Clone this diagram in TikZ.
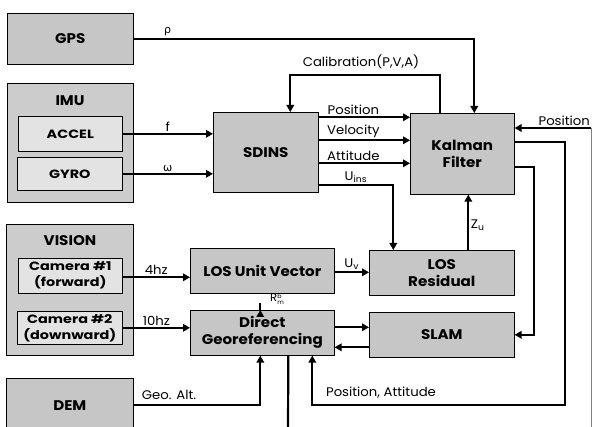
\documentclass[tikz,border=0pt]{standalone}
\usepackage{fontspec}
\setmainfont{Poppins}
\newfontfamily\boxfont[FakeStretch=1.08]{Poppins}
\newfontfamily\infont[FakeStretch=1.2]{Poppins}
\newfontfamily\lblfont[FakeStretch=1.06]{Poppins}
\newfontfamily\grkfont{DejaVu Sans}
\usetikzlibrary{arrows.meta,positioning}

\begin{document}
\begin{tikzpicture}[x=1pt,y=-1pt,
  blk/.style={draw, fill=gray!45, line width=0.6pt, inner sep=0pt, anchor=north west,
    align=center, font=\boxfont\bfseries\fontsize{14}{17}\selectfont},
  grp/.style={blk, fill=gray!40},
  inbox/.style={blk, fill=gray!22, font=\infont\bfseries\fontsize{12}{16}\selectfont},
  arr/.style={line width=2.2pt, -{Triangle[length=7pt,width=7.5pt]}},
  lbl/.style={inner sep=1.5pt, font=\lblfont\fontsize{12.5}{13}\selectfont}]
  \useasboundingbox (0,0) rectangle (592,427);
  \clip (0,0) rectangle (592,427);

  % Sensors
  \node[blk, minimum width=126pt, minimum height=51pt] (gps) at (7,13) {GPS};
  \node[grp, minimum width=126pt, minimum height=119pt] (imu) at (7,83) {};
  \node[blk, draw=none, fill=none, anchor=center] (imutxt) at (70,101) {IMU};
  \node[inbox, minimum width=104pt, minimum height=35pt] (acc) at (18,116) {ACCEL};
  \node[inbox, minimum width=105pt, minimum height=33pt] (gyr) at (17,157) {GYRO};
  \node[grp, minimum width=127pt, minimum height=131pt] (vis) at (6,224) {};
  \node[blk, draw=none, fill=none, anchor=center] (vistxt) at (70,241) {VISION};
  \node[inbox, minimum width=104pt, minimum height=35pt] (cam1) at (18,258) {Camera \#1\\(forward)};
  \node[inbox, minimum width=105pt, minimum height=33pt] (cam2) at (17,311) {Camera \#2\\(downward)};
  \node[blk, minimum width=127pt, minimum height=54pt] (dem) at (6,378) {DEM};

  % Processing blocks
  \node[blk, minimum width=105pt, minimum height=80pt] (sd) at (213,112) {SDINS};
  \node[blk, minimum width=104pt, minimum height=81pt] (kf) at (410,113) {Kalman\\Filter};
  \node[blk, minimum width=144pt, minimum height=45pt] (lu) at (190,248) {LOS Unit Vector};
  \node[blk, minimum width=144pt, minimum height=45pt] (dg) at (190,310) {Direct\\Georeferencing};
  \node[blk, minimum width=145pt, minimum height=45pt] (lr) at (369,250) {LOS\\Residual};
  \node[blk, minimum width=145pt, minimum height=45pt] (sl) at (369,312) {SLAM};

  % Free ends
  \coordinate (posin) at (591,128);
  \coordinate (dgout) at (288,432);

  % GPS and calibration
  \draw[arr] (gps.east) -| node[lbl, pos=0.05, above] {\grkfont\fontsize{11}{12}\selectfont ρ} ([xshift=12pt]kf.north);
  \draw[arr] ([xshift=-22pt]kf.north) -- ++(0,-38) -| ([xshift=24.5pt]sd.north);
  \node[lbl] (callbl) at (361,62) {Calibration(P,V,A)};

  % IMU to SDINS
  \draw[arr] (acc.east) -- node[lbl, above] {f} (acc.east -| sd.west);
  \draw[arr] (gyr.east) -- node[lbl, above] {\grkfont\fontsize{11}{12}\selectfont ω} (gyr.east -| sd.west);

  % SDINS outputs
  \draw[arr] ([yshift=35pt]sd.east) -- node[lbl, pos=0.38, above] {Position} ([yshift=35pt]sd.east -| kf.west);
  \draw[arr] ([yshift=12pt]sd.east) -- node[lbl, pos=0.38, above] {Velocity} ([yshift=12pt]sd.east -| kf.west);
  \draw[arr] ([yshift=-11pt]sd.east) -- node[lbl, pos=0.38, above] {Attitude} ([yshift=-11pt]sd.east -| kf.west);
  \draw[arr] ([yshift=-33pt]sd.east) -| node[lbl, pos=0.25, above] {U\textsubscript{ins}} ([xshift=-48.5pt]lr.north);

  % Vision chain
  \draw[arr] ([yshift=-1.5pt]cam1.east) -- node[lbl, above] {4hz} ([yshift=-1.5pt]cam1.east -| lu.west);
  \draw[arr] (cam2.east) -- node[lbl, above] {10hz} (cam2.east -| dg.west);
  \draw[arr] ([yshift=-1.5pt]lu.east) -- node[lbl, above] {U\textsubscript{v}} ([yshift=-1.5pt]lu.east -| lr.west);
  \draw[arr] ([xshift=-2pt]dg.north) -- ([xshift=-2pt]dg.north -| lu.south);
  \node[lbl, inner sep=0pt, anchor=base west, font=\lblfont\fontsize{11}{11}\selectfont] (rlbl) at (270,302)
    {R$^{\mbox{\lblfont\fontsize{6}{6}\selectfont b}}_{\mbox{\lblfont\fontsize{6}{6}\selectfont m}}$};
  \draw[arr] ([xshift=26.5pt]lr.north) -- node[lbl, right, pos=0.45] {Z\textsubscript{u}} ([xshift=26.5pt]lr.north |- kf.south);
  \draw[arr] ([yshift=5.5pt]dg.east) -- ([yshift=5.5pt]dg.east -| sl.west);
  \draw[arr] ([yshift=-12.5pt]sl.west) -- ([yshift=-12.5pt]sl.west -| dg.east);
  \draw[arr] (dem.east) -| node[lbl, pos=0.14, above=3pt] {Geo. Alt.} ([xshift=-2pt]dg.south);
  \draw[line width=2.2pt] ([xshift=26pt]dg.south) -- (dgout);

  % Kalman feedback
  \draw[arr] ([yshift=-13.5pt]kf.east) -- ++(19,0) |- (sl.east);
  \draw[arr] ([yshift=11.5pt]kf.east) -- ++(50,0) -- ++(0,263) -| ([xshift=50pt]dg.south);
  \node[lbl] (palbl) at (381,393) {Position, Attitude};
  \draw[arr] (posin) -- node[lbl, pos=0.35, above] {Position} (posin -| kf.east);
  \draw[line width=0.5pt, gray] (posin) -- (591,427);
\end{tikzpicture}
\end{document}
